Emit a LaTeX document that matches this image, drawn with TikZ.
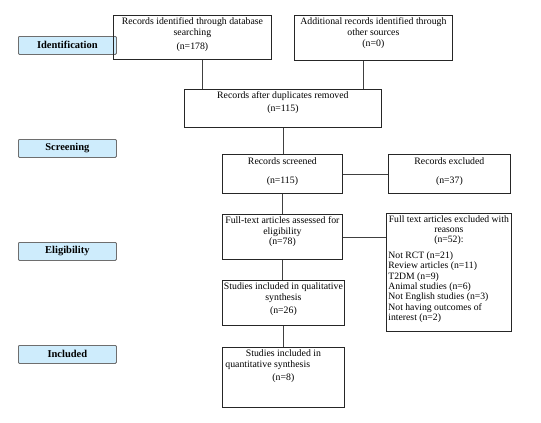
\documentclass[tikz,border=0pt]{standalone}
\usepackage{fontspec}
\setmainfont{Liberation Serif}
\usetikzlibrary{calc}
\definecolor{stagefill}{RGB}{206,236,252}
\definecolor{stageline}{RGB}{110,110,110}
\newcommand{\flowtext}[3]{\parbox[c][#2][t]{#1}{\centering\fontsize{9.8}{10.8}\selectfont #3}}
\begin{document}
\begin{tikzpicture}[x=1pt,y=-1pt,
  box/.style={draw=black!85, line width=0.8pt, inner sep=2pt, anchor=north west},
  stage/.style={draw=stageline, fill=stagefill, line width=0.8pt, rounded corners=1pt,
    minimum width=98pt, minimum height=18pt, inner sep=0pt, anchor=north west,
    font=\fontsize{10.5}{12}\selectfont\bfseries},
  link/.style={draw=black!75, line width=0.7pt}]
\useasboundingbox (0,0) rectangle (541,423);
% stage labels
\node[stage] (idl) at (18,36) {\raisebox{2pt}{Identification}};
\node[stage] (scl) at (18,139) {\raisebox{2pt}{Screening}};
\node[stage] (ell) at (18,242) {\raisebox{2pt}{Eligibility}};
\node[stage] (inl) at (18,345) {\raisebox{2pt}{Included}};
% boxes
\node[box] (db) at (113,15) {\flowtext{154pt}{40pt}{Records identified through database\\ searching\\[4pt] (n=178)}};
\node[box] (add) at (294,15) {\flowtext{154pt}{41pt}{Additional records identified through\\ other sources\\[1pt] (n=0)}};
\node[box] (dup) at (184,89) {\flowtext{193pt}{34pt}{Records after duplicates removed\\[2pt] (n=115)}};
\node[box] (scr) at (222,154) {\flowtext{116pt}{35pt}{\vspace*{1pt}Records screened\\[8pt] (n=115)}};
\node[box] (exc) at (388,154) {\flowtext{118pt}{35pt}{\vspace*{1pt}Records excluded\\[8pt] (n=37)}};
\node[box] (ful) at (222,214) {\flowtext{116pt}{41pt}{Full-text articles assessed for\\ eligibility\\[-0.5pt] (n=78)}};
\node[box] (rsn) at (386,213) {\parbox[c][114pt][t]{121pt}{\fontsize{9.7}{10.4}\selectfont
  {\centering Full text articles excluded with\\ reasons\\ (n=52):\par}\vspace{5pt}
  \raggedright Not RCT (n=21)\\ Review articles (n=11)\\ T2DM (n=9)\\ Animal studies (n=6)\\ Not English studies (n=3)\\ Not having outcomes of\\ interest (n=2)}};
\node[box] (qul) at (222,280) {\flowtext{118pt}{41pt}{\makebox[\linewidth]{Studies included in qualitative}\\ synthesis\\[3pt] (n=26)}};
\node[box] (qnt) at (222,347) {\parbox[c][56pt][t]{118pt}{\fontsize{9.8}{10.8}\selectfont
  {\centering Studies included in\par}\hspace*{1pt}quantitative synthesis\par\vspace{3pt}{\centering (n=8)\par}}};
% connectors
\coordinate (dbout) at ($(db.south west)!0.563!(db.south east)$);
\coordinate (addout) at ($(add.south west)!0.437!(add.south east)$);
\draw[link] (dbout) -- (dbout |- dup.north);
\draw[link] (addout) -- (addout |- dup.north);
\draw[link] (dup.south) -- (dup.south |- scr.north);
\draw[link] (scr.east) -- (exc.west);
\draw[link] (scr.south) -- (ful.north);
\draw[link] (ful.east) -- (ful.east -| rsn.west);
\draw[link] (ful.south) -- (ful.south |- qul.north);
\draw[link] (qul.south) -- (qul.south |- qnt.north);
\end{tikzpicture}
\end{document}
